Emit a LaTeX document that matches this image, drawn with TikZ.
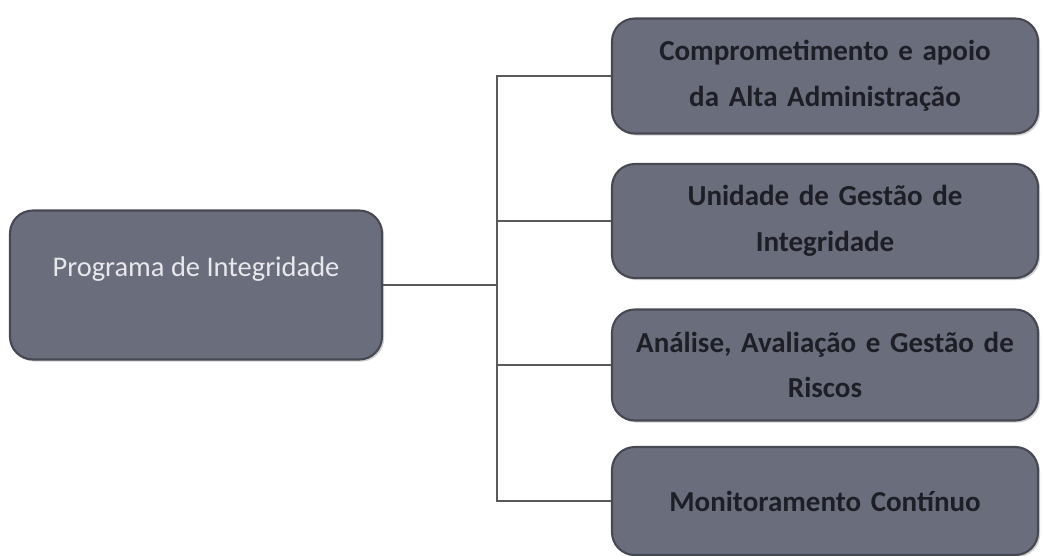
\documentclass[tikz,border=0pt]{standalone}
\usepackage{fontspec}
\setmainfont{Carlito}
\usetikzlibrary{shadows}

\definecolor{boxfill}{RGB}{106,109,124}
\definecolor{boxline}{RGB}{70,72,82}
\definecolor{darktext}{RGB}{30,30,38}
\definecolor{lighttext}{RGB}{232,232,236}
\definecolor{wire}{RGB}{90,90,90}

\begin{document}
\begin{tikzpicture}[x=0.02cm, y=-0.02cm,
    box/.style={draw=boxline, line width=1.2pt, fill=boxfill, rounded corners=13pt,
        inner sep=0pt, align=center,
        drop shadow={opacity=0.35, shadow xshift=1.2pt, shadow yshift=-1.2pt}},
    item/.style={box, minimum width=426*0.02cm, text width=410*0.02cm,
        font=\fontsize{16.5}{26}\selectfont\bfseries, text=darktext},
    wire/.style={draw=wire, line width=0.8pt}]
            \useasboundingbox (0,0) rectangle (1043,555);

            \node[box, minimum width=372*0.02cm, minimum height=149*0.02cm, text depth=0.72cm,
                font=\fontsize{16.2}{19}\selectfont, text=lighttext] (prog) at (196,285) {Programa de Integridade};

            \node[item, minimum height=115*0.02cm] (b1) at (825,76) {Comprometimento e apoio\\da Alta Administração};
            \node[item, minimum height=114*0.02cm] (b2) at (825,221) {Unidade de Gestão de\\Integridade};
            \node[item, minimum height=111*0.02cm] (b3) at (825,365) {Análise, Avaliação e Gestão de\\Riscos};
            \node[item, minimum height=108*0.02cm] (b4) at (825,501) {Monitoramento Contínuo};

            \coordinate (fork) at (497,285);

            \draw[wire] (prog.east) -- (fork);
            \draw[wire] (fork) |- (b1.west);
            \draw[wire] (fork) |- (b2.west);
            \draw[wire] (fork) |- (b3.west);
            \draw[wire] (fork) |- (b4.west);
        \end{tikzpicture}
\end{document}
